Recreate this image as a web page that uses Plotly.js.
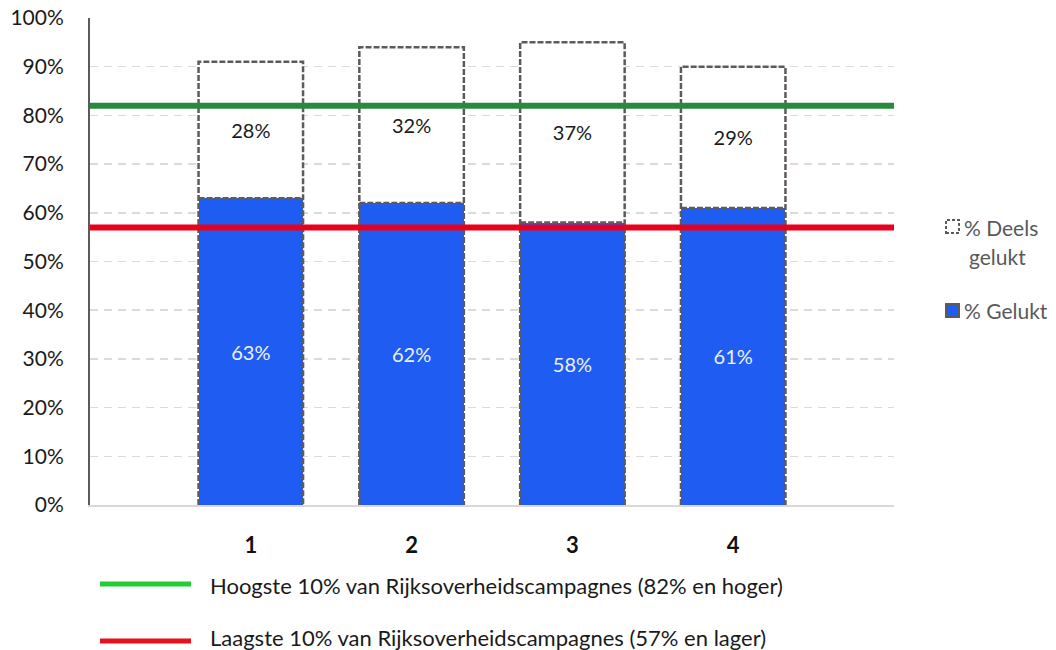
<!DOCTYPE html>
<html>
<head>
<meta charset="utf-8">
<script src="https://cdn.plot.ly/plotly-3.0.1.min.js"></script>
<style>html,body{margin:0;padding:0;background:#fff}#chart{width:1056px;height:650px}</style>
</head>
<body>
<div id="chart"></div>
<script>
const categories = [1, 2, 3, 4];
const gelukt = [63, 62, 58, 61];
const deelsGelukt = [28, 32, 37, 29];
const hoogste = 82;
const laagste = 57;
const yTicks = [0,10,20,30,40,50,60,70,80,90,100];
const yTickText = yTicks.map(v => v + '%');
const seriesNames = ['% Gelukt', '% Deels gelukt'];
const refNames = ['Hoogste 10% van Rijksoverheidscampagnes (82% en hoger)', 'Laagste 10% van Rijksoverheidscampagnes (57% en lager)'];

const FONT = 'Lato, "Open Sans", sans-serif';
const barW = 0.65;
const outline = '#5f5a5a';

const traces = [];
traces.push({
  type: 'bar', x: categories, y: gelukt, name: seriesNames[0], width: barW,
  marker: {color: '#1f5cf2', line: {width: 0}},
  text: gelukt.map(v => v + '%'), textposition: 'inside', insidetextanchor: 'middle',
  textfont: {family: FONT, size: 20, color: '#eef0ff'}, showlegend: false, hoverinfo: 'skip'
});
traces.push({
  type: 'bar', x: categories, y: deelsGelukt, name: seriesNames[1], width: barW,
  marker: {color: '#ffffff', line: {width: 0}},
  text: deelsGelukt.map(v => v + '%'), textposition: 'inside', insidetextanchor: 'middle',
  textfont: {family: FONT, size: 20, color: '#1a1a1a'}, showlegend: false, hoverinfo: 'skip'
});
// dashed outlines derived from the data
categories.forEach((c, i) => {
  const l = c - barW/2, r = c + barW/2;
  const b = gelukt[i], t = gelukt[i] + deelsGelukt[i];
  traces.push({type: 'scatter', mode: 'lines', x: [l, l, r, r], y: [0, t, t, 0],
    line: {color: outline, width: 2.5, dash: '6px,2px'}, showlegend: false, hoverinfo: 'skip'});
  traces.push({type: 'scatter', mode: 'lines', x: [l, r], y: [b, b],
    line: {color: outline, width: 2.5, dash: '6px,2px'}, showlegend: false, hoverinfo: 'skip'});
});
traces.push({type: 'scatter', mode: 'lines', x: [0, 5], y: [hoogste, hoogste],
  line: {color: '#2a8a3c', width: 6}, showlegend: false, hoverinfo: 'skip'});
traces.push({type: 'scatter', mode: 'lines', x: [0, 5], y: [laagste, laagste],
  line: {color: '#e8001c', width: 6}, showlegend: false, hoverinfo: 'skip'});

const px = v => (v - 90) / 804;
const py = v => (505 - v) / 487;

const shapes = [
  {type: 'rect', xref: 'paper', yref: 'paper', x0: px(946), x1: px(959), y0: py(233), y1: py(220),
   line: {color: outline, width: 2, dash: '3px,2px'}, fillcolor: '#fff'},
  {type: 'rect', xref: 'paper', yref: 'paper', x0: px(946), x1: px(959), y0: py(317), y1: py(304),
   line: {color: outline, width: 2}, fillcolor: '#1f5cf2'},
  {type: 'line', xref: 'paper', yref: 'paper', x0: px(100), x1: px(191), y0: py(584), y1: py(584),
   line: {color: '#22cc33', width: 5}},
  {type: 'line', xref: 'paper', yref: 'paper', x0: px(100), x1: px(191), y0: py(641), y1: py(641),
   line: {color: '#e8101c', width: 5}}
];

const legFont = {family: FONT, size: 21, color: '#595959'};
const annotations = [
  {xref: 'paper', yref: 'paper', x: px(962), y: py(227), xanchor: 'left', yanchor: 'middle',
   text: '% Deels', showarrow: false, font: legFont},
  {xref: 'paper', yref: 'paper', x: px(997), y: py(256), xanchor: 'center', yanchor: 'middle',
   text: 'gelukt', showarrow: false, font: legFont},
  {xref: 'paper', yref: 'paper', x: px(962), y: py(310), xanchor: 'left', yanchor: 'middle',
   text: seriesNames[0], showarrow: false, font: legFont},
  {xref: 'paper', yref: 'paper', x: px(208), y: py(585), xanchor: 'left', yanchor: 'middle',
   text: refNames[0], showarrow: false, font: {family: FONT, size: 22, color: '#1a1a1a'}},
  {xref: 'paper', yref: 'paper', x: px(208), y: py(637), xanchor: 'left', yanchor: 'middle',
   text: refNames[1], showarrow: false, font: {family: FONT, size: 22, color: '#1a1a1a'}}
];

const layout = {
  width: 1056, height: 650,
  margin: {l: 90, r: 162, t: 18, b: 145},
  paper_bgcolor: '#fff', plot_bgcolor: '#fff',
  barmode: 'stack', bargap: 0.35,
  showlegend: false,
  font: {family: FONT, size: 20, color: '#1a1a1a'},
  xaxis: {
    range: [0, 5], tickmode: 'array', tickvals: categories, ticktext: categories.map(String),
    showgrid: false, zeroline: false, showline: true, linecolor: '#dcd8d8', linewidth: 2,
    ticks: '', ticklabelstandoff: 20,
    tickfont: {family: FONT, size: 22, color: '#111', weight: 'bold'}
  },
  yaxis: {
    range: [0, 100], tickmode: 'array', tickvals: yTicks, ticktext: yTickText,
    showgrid: true, gridcolor: '#dedada', gridwidth: 1.5, griddash: '8px,6px',
    zeroline: false, showline: true, linecolor: '#5f5a5a', linewidth: 2,
    ticks: '', ticklabelstandoff: 20,
    tickfont: {family: FONT, size: 21, color: '#1a1a1a'}
  },
  shapes: shapes,
  annotations: annotations
};

Plotly.newPlot('chart', traces, layout, {displayModeBar: false, staticPlot: true});
</script>
</body>
</html>
